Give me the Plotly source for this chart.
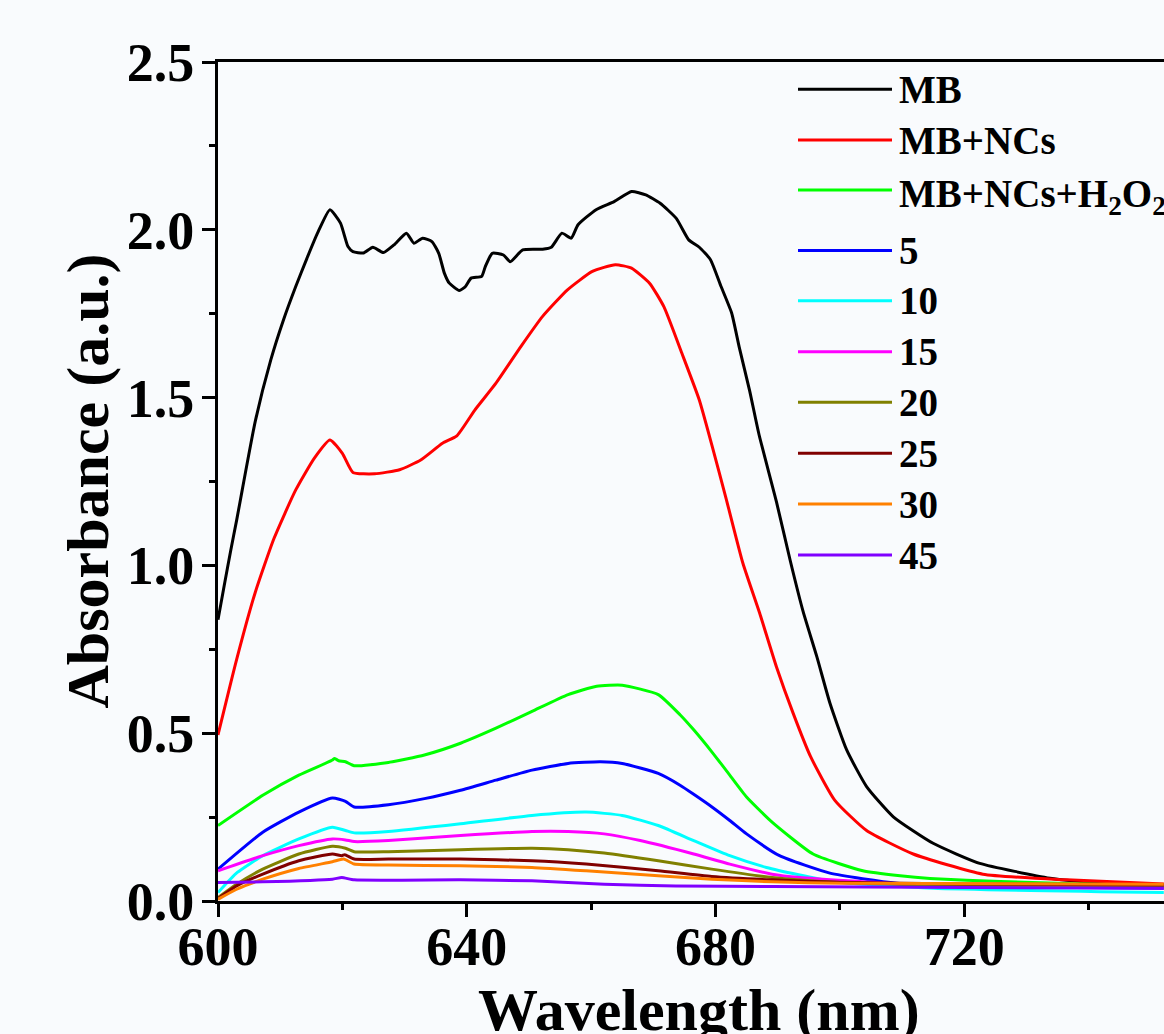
import plotly.graph_objects as go

# UV-Vis absorbance spectra of methylene blue degradation (600-752 nm window)
wl_mb = [600.0, 601.0, 602.0, 603.0, 603.9, 606.0, 608.5, 610.5, 612.5, 614.3, 616.0, 618.0,
         619.7, 620.9, 621.7, 623.4, 624.9, 626.6, 628.3, 630.3, 631.5, 632.9, 634.4, 635.5,
         636.4, 637.2, 638.8, 639.8, 640.7, 642.4, 643.0, 644.1, 645.9, 647.0, 649.0, 652.2,
         653.6, 655.3, 656.8, 657.9, 660.8, 663.7, 666.5, 668.8, 671.1, 673.7, 675.7, 677.4,
         679.2, 680.9, 682.6, 683.8, 685.5, 687.0, 689.8, 692.0, 694.1, 696.3, 698.4, 701.1,
         704.3, 708.6, 715.0, 722.5, 733.8, 741.8, 752.1]
abs_mb = [0.838, 0.94, 1.04, 1.135, 1.225, 1.43, 1.613, 1.73, 1.831, 1.915, 1.99, 2.06,
          2.02, 1.95, 1.935, 1.931, 1.948, 1.932, 1.955, 1.99, 1.96, 1.975, 1.965, 1.93,
          1.871, 1.841, 1.819, 1.831, 1.856, 1.861, 1.891, 1.93, 1.925, 1.905, 1.94, 1.942,
          1.948, 1.99, 1.975, 2.015, 2.06, 2.084, 2.114, 2.104, 2.079, 2.034, 1.97, 1.948,
          1.911, 1.831, 1.752, 1.652, 1.52, 1.39, 1.19, 1.016, 0.862, 0.728, 0.59, 0.45,
          0.341, 0.251, 0.172, 0.112, 0.068, 0.053, 0.048]

wl_nc = [600.0, 603.0, 606.0, 609.0, 612.5, 615.5, 618.0, 620.0, 621.7, 625.2, 629.2, 632.6,
         636.1, 638.4, 641.3, 644.7, 648.7, 652.2, 656.2, 660.2, 663.9, 666.5, 669.4, 671.7,
         674.6, 677.4, 679.4, 681.7, 684.4, 687.1, 689.8, 692.5, 695.3, 699.2, 704.3, 711.8,
         723.0, 736.5, 752.1]
abs_nc = [0.495, 0.72, 0.92, 1.08, 1.225, 1.32, 1.374, 1.334, 1.277, 1.273, 1.285, 1.314,
          1.364, 1.386, 1.463, 1.543, 1.652, 1.742, 1.821, 1.876, 1.896, 1.886, 1.841, 1.771,
          1.632, 1.493, 1.36, 1.20, 1.007, 0.858, 0.698, 0.559, 0.43, 0.30, 0.21, 0.14,
          0.08, 0.063, 0.051]

wl_h2o2 = [600.0, 607.2, 613.0, 618.4, 618.7, 619.4, 620.5, 621.9, 627.4, 633.2, 639.0, 644.7,
           650.5, 656.3, 660.9, 665.0, 670.8, 674.3, 676.5, 679.6, 682.3, 685.0, 689.1, 695.7,
           703.7, 709.7, 714.5, 725.8, 752.1]
abs_h2o2 = [0.225, 0.315, 0.375, 0.42, 0.425, 0.418, 0.415, 0.403, 0.413, 0.435, 0.47, 0.515,
            0.565, 0.615, 0.64, 0.643, 0.615, 0.555, 0.51, 0.44, 0.375, 0.31, 0.235, 0.14,
            0.09, 0.075, 0.067, 0.058, 0.043]

wl_5 = [600.0, 607.2, 613.0, 618.4, 620.5, 621.9, 627.4, 633.2, 639.0, 644.7, 650.5, 656.3,
        661.5, 665.0, 670.8, 674.3, 676.5, 679.6, 682.3, 685.0, 690.3, 698.4, 709.1, 722.5, 752.1]
abs_5 = [0.095, 0.205, 0.265, 0.307, 0.297, 0.28, 0.287, 0.305, 0.33, 0.36, 0.39, 0.41,
         0.415, 0.41, 0.38, 0.345, 0.318, 0.278, 0.24, 0.20, 0.135, 0.083, 0.053, 0.043, 0.038]

wl_10 = [600.0, 603.1, 607.2, 613.0, 618.4, 620.5, 621.9, 627.4, 639.0, 650.5, 659.2, 665.0,
         670.8, 676.5, 682.3, 688.2, 698.9, 715.0, 752.1]
abs_10 = [0.025, 0.085, 0.135, 0.185, 0.22, 0.21, 0.203, 0.207, 0.23, 0.255, 0.265, 0.255,
          0.225, 0.18, 0.135, 0.10, 0.058, 0.038, 0.025]

wl_15 = [600.0, 607.2, 613.0, 618.4, 620.5, 621.9, 627.4, 639.0, 650.5, 656.3, 662.1, 667.9,
         676.5, 682.3, 689.1, 693.6, 709.7, 731.1, 752.1]
abs_15 = [0.09, 0.135, 0.165, 0.185, 0.182, 0.177, 0.18, 0.195, 0.207, 0.207, 0.20, 0.18,
          0.14, 0.11, 0.08, 0.07, 0.051, 0.043, 0.04]

wl_20 = [600.0, 603.0, 607.2, 613.0, 618.4, 620.5, 621.9, 627.4, 639.0, 650.5, 656.3, 662.1,
         670.8, 679.4, 689.1, 700.0, 720.0, 752.1]
abs_20 = [0.01, 0.05, 0.095, 0.14, 0.163, 0.157, 0.147, 0.147, 0.153, 0.157, 0.153, 0.143,
          0.12, 0.095, 0.07, 0.055, 0.046, 0.042]

wl_25 = [600.0, 603.0, 607.2, 613.0, 618.4, 619.9, 620.4, 621.9, 627.4, 639.0, 650.5, 659.2,
         670.8, 679.4, 689.1, 700.0, 720.0, 752.1]
abs_25 = [0.007, 0.045, 0.08, 0.12, 0.14, 0.135, 0.138, 0.125, 0.125, 0.125, 0.12, 0.11,
          0.09, 0.073, 0.063, 0.056, 0.051, 0.048]

wl_30 = [600.0, 603.0, 607.2, 613.0, 618.4, 620.2, 621.9, 627.4, 639.0, 650.5, 659.2, 670.8,
         679.4, 689.1, 700.0, 752.1]
abs_30 = [0.005, 0.035, 0.065, 0.097, 0.117, 0.125, 0.11, 0.107, 0.105, 0.10, 0.09, 0.075,
          0.065, 0.057, 0.053, 0.05]

wl_45 = [600.0, 607.2, 618.4, 619.9, 621.9, 639.0, 650.5, 662.1, 673.6, 689.1, 720.0, 752.1]
abs_45 = [0.055, 0.057, 0.065, 0.07, 0.063, 0.063, 0.06, 0.05, 0.045, 0.043, 0.04, 0.038]

names = ["MB", "MB+NCs", "MB+NCs+H<sub>2</sub>O<sub>2</sub>", "5", "10", "15", "20", "25", "30", "45"]
wavelengths = [wl_mb, wl_nc, wl_h2o2, wl_5, wl_10, wl_15, wl_20, wl_25, wl_30, wl_45]
absorbances = [abs_mb, abs_nc, abs_h2o2, abs_5, abs_10, abs_15, abs_20, abs_25, abs_30, abs_45]
colors = ["#000000", "#ff0000", "#00ff00", "#0000ff", "#00ffff", "#ff00ff",
          "#808000", "#800000", "#ff8000", "#8000ff"]

BG = "#f9fbfd"
FONT = "Liberation Serif"

# figure geometry in pixels
W, H = 1164, 1034
ML, MR, MT, MB_ = 218, 0, 62, 133
PW, PH = W - ML - MR, H - MT - MB_


def px_x(px):
    return (px - ML) / PW


def px_y(py):
    return (H - MB_ - py) / PH


fig = go.Figure()
for name, wl, ab, col in zip(names, wavelengths, absorbances, colors):
    fig.add_trace(go.Scatter(
        x=wl, y=ab, mode="lines", name=name, showlegend=False,
        line=dict(color=col, width=3, shape="spline", smoothing=0.5),
    ))

axis_common = dict(
    showline=True, linewidth=3, linecolor="black",
    ticks="outside", ticklen=13, tickwidth=3, tickcolor="black",
    showgrid=False, zeroline=False,
    tickfont=dict(family=FONT, size=54, color="black", weight="bold"),
)

fig.update_xaxes(
    range=[600, 752.13], tick0=600, dtick=40, mirror=True, ticklabelstandoff=-17,
    minor=dict(dtick=20, tick0=600, ticks="outside", ticklen=6, tickwidth=3,
               tickcolor="black", showgrid=False),
    **axis_common,
)
fig.update_yaxes(
    range=[0, 2.5], tick0=0, dtick=0.5, tickformat=".1f", mirror=False, ticklabelstandoff=-3,
    minor=dict(dtick=0.25, tick0=0, ticks="outside", ticklen=6, tickwidth=3,
               tickcolor="black", showgrid=False),
    **axis_common,
)

# key: sample line plus label for each spectrum
key_rows = [89.3, 140.0, 190.0, 250.5, 300.7, 351.7, 402.3, 453.3, 504.0, 555.0]
shapes, annotations = [], []
for name, col, ry in zip(names, colors, key_rows):
    shapes.append(dict(type="line", xref="paper", yref="paper",
                       x0=px_x(798), x1=px_x(892), y0=px_y(ry), y1=px_y(ry),
                       line=dict(color=col, width=3)))
    annotations.append(dict(text=name, showarrow=False, xref="paper", yref="paper",
                            x=px_x(897), y=px_y(ry), xanchor="left", yanchor="middle",
                            yshift=-6 if "sub" in name else 0,
                            font=dict(family=FONT, size=39, color="black", weight="bold")))

annotations += [
    dict(text="Absorbance (a.u.)", textangle=-90, showarrow=False,
         xref="paper", yref="paper", x=px_x(87), y=0.5,
         xanchor="center", yanchor="middle",
         font=dict(family=FONT, size=60, color="black", weight="bold")),
    dict(text="Wavelength (nm)", showarrow=False,
         xref="paper", yref="paper", x=px_x(699), y=px_y(975),
         xanchor="center", yanchor="top",
         font=dict(family=FONT, size=60, color="black", weight="bold")),
]

fig.update_layout(
    width=W, height=H,
    margin=dict(l=ML, r=MR, t=MT, b=MB_),
    paper_bgcolor=BG, plot_bgcolor=BG,
    showlegend=False,
    shapes=shapes,
    annotations=annotations,
)

fig.write_html("out.html")
